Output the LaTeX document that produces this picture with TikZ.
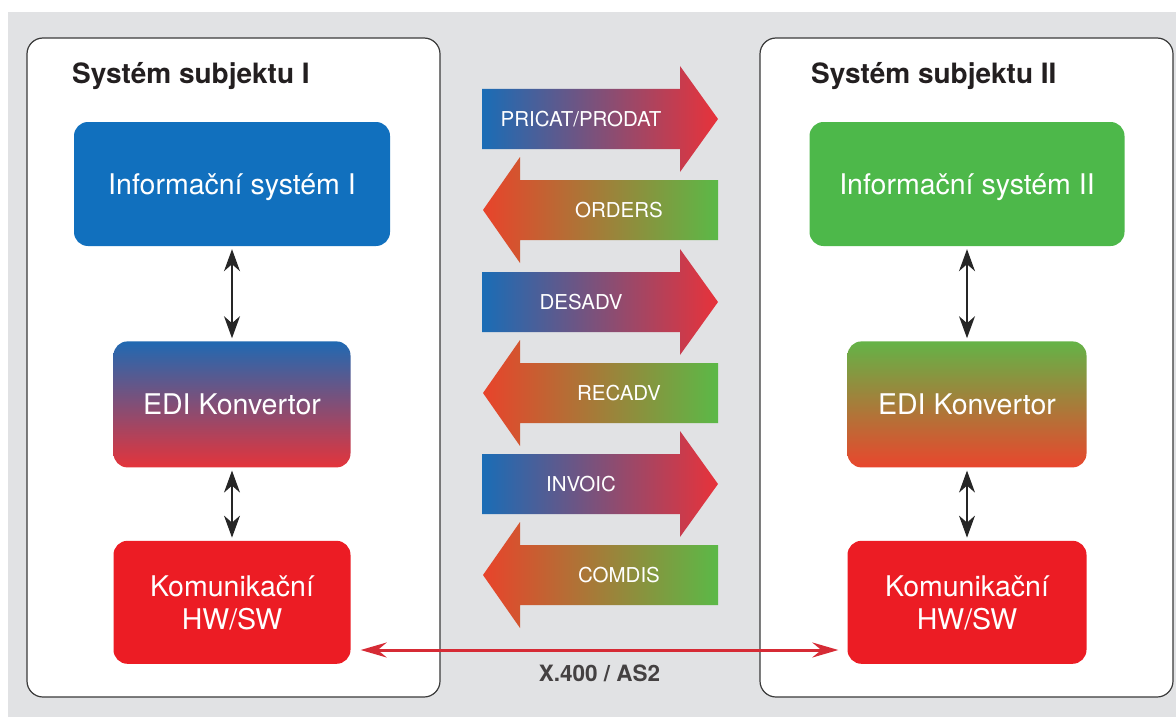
\documentclass[tikz,border=0pt]{standalone}
\usepackage{fontspec}
\setmainfont{TeX Gyre Heros}
\usetikzlibrary{positioning, arrows.meta}

\definecolor{bggray}{HTML}{E1E2E4}
\definecolor{panelline}{HTML}{3A3A3A}
\definecolor{titlegray}{HTML}{231F20}
\definecolor{isblue}{HTML}{1170BE}
\definecolor{isgreen}{HTML}{4DB84A}
\definecolor{komred}{HTML}{EC1C24}
\definecolor{ediblue}{HTML}{2069B2}
\definecolor{edired}{HTML}{E4343B}
\definecolor{edigreen}{HTML}{64B347}
\definecolor{ediorange}{HTML}{E9462D}
\definecolor{arrblue}{HTML}{1A6DB6}
\definecolor{arrred}{HTML}{E8323A}
\definecolor{arrorange}{HTML}{E8432B}
\definecolor{arrgreen}{HTML}{5BB947}
\definecolor{linkred}{HTML}{D62B35}

\begin{document}
\begin{tikzpicture}[x=1pt, y=-1pt,
	panel/.style={draw=panelline, line width=1.2pt, fill=white, rounded corners=16pt},
	box/.style={rounded corners=14pt, inner sep=0pt, text=white, align=center, text depth=0pt,
		font=\fontsize{28.5}{33}\selectfont},
	title/.style={anchor=base west, inner sep=0pt, text=titlegray,
		font=\bfseries\fontsize{28}{33}\selectfont},
	msg/.style={anchor=base, inner sep=0pt, text=white, font=\fontsize{20.5}{24}\selectfont},
	link/.style={{Stealth[length=22pt,width=16pt,inset=7pt]}-{Stealth[length=22pt,width=16pt,inset=7pt]},
		line width=1.2pt, black!85, shorten <=3pt, shorten >=3pt},
	wire/.style={{Stealth[length=26pt,width=15pt,inset=9pt]}-{Stealth[length=26pt,width=15pt,inset=9pt]},
		line width=3pt, linkred}]

	\useasboundingbox (0,0) rectangle (1176,717);
	\fill[bggray] (8,12) rectangle (1176,717);

	% the two systems
	\node[panel, minimum width=413pt, minimum height=659pt] (sys1) at (233.5,367.5) {};
	\node[panel, minimum width=413pt, minimum height=659pt] (sys2) at (966.5,367.5) {};
	\node[title] (title1) at (72,84) {Systém subjektu I};
	\node[title] (title2) at (811,84) {Systém subjektu II};

	\node[box, fill=isblue, minimum width=316pt, minimum height=124pt] (is1) at (232,184) {Informační systém I};
	\node[box, top color=ediblue, bottom color=edired, minimum width=237pt, minimum height=126pt, below=95pt of is1] (edi1) {EDI Konvertor};
	\node[box, fill=komred, minimum width=237pt, minimum height=123pt, below=73pt of edi1] (kom1) {Komunikační\\HW/SW};

	\node[box, fill=isgreen, minimum width=315pt, minimum height=124pt] (is2) at (967,184) {Informační systém II};
	\node[box, top color=edigreen, bottom color=ediorange, minimum width=239pt, minimum height=126pt, below=95pt of is2] (edi2) {EDI Konvertor};
	\node[box, fill=komred, minimum width=239pt, minimum height=123pt, below=73pt of edi2] (kom2) {Komunikační\\HW/SW};

	\draw[link] (is1) -- (edi1);
	\draw[link] (edi1) -- (kom1);
	\draw[link] (is2) -- (edi2);
	\draw[link] (edi2) -- (kom2);

	% messages to the right
	\foreach \nm/\y/\txt in {pricat/119/{PRICAT/PRODAT}, desadv/302/DESADV, invoic/484/INVOIC} {
		\shade[left color=arrblue, right color=arrred]
			(482,\y-30) -- (680,\y-30) -- (680,\y-53) -- (718,\y)
			-- (680,\y+53) -- (680,\y+30) -- (482,\y+30) -- cycle;
		\node[msg] (\nm) at (581,\y+7.5) {\txt};
	}
	% messages to the left
	\foreach \nm/\y/\txt in {orders/210/ORDERS, recadv/393/RECADV, comdis/575/COMDIS} {
		\shade[left color=arrorange, right color=arrgreen]
			(718,\y-30) -- (520,\y-30) -- (520,\y-53) -- (483,\y)
			-- (520,\y+53) -- (520,\y+30) -- (718,\y+30) -- cycle;
		\node[msg] (\nm) at (619,\y+7.5) {\txt};
	}

	\draw[wire] ([xshift=10pt, yshift=14pt]kom1.south east) -- node[below=13pt, inner sep=0pt, text=titlegray!85,
		font=\bfseries\fontsize{22.5}{26}\selectfont] (proto) {X.400 / AS2} ([xshift=-9pt, yshift=14pt]kom2.south west);

\end{tikzpicture}
\end{document}
